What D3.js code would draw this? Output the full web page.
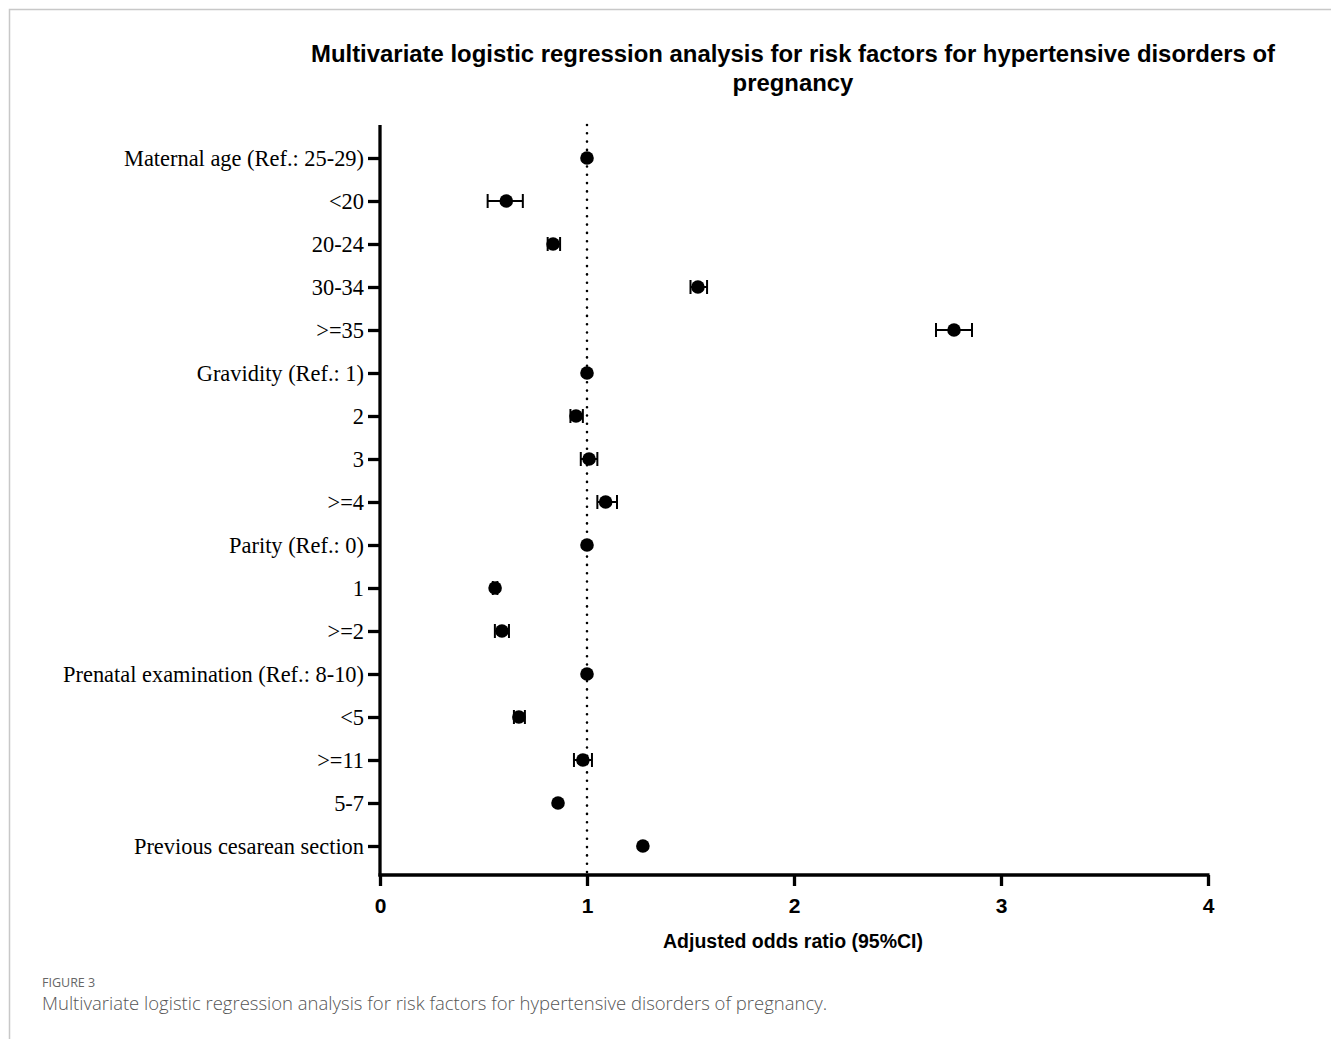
<!DOCTYPE html>
<html><head><meta charset="utf-8">
<script src="https://cdn.jsdelivr.net/npm/d3@7"></script>
<style>
body{margin:0;background:#fff;}
svg{display:block;}
</style></head>
<body>
<svg id="chart" width="1331" height="1039"></svg>
<script>
const categories = ["Maternal age (Ref.: 25-29)","<20","20-24","30-34",">=35","Gravidity (Ref.: 1)","2","3",">=4","Parity (Ref.: 0)","1",">=2","Prenatal examination (Ref.: 8-10)","<5",">=11","5-7","Previous cesarean section"];
const oddsRatio = [1.00,0.61,0.836,1.536,2.773,1.00,0.947,1.01,1.09,1.00,0.556,0.589,1.00,0.671,0.98,0.86,1.27];
const ciLower =   [1.00,0.52,0.81,1.50,2.686,1.00,0.92,0.97,1.05,1.00,0.545,0.555,1.00,0.647,0.937,0.86,1.27];
const ciUpper =   [1.00,0.69,0.87,1.58,2.86,1.00,0.98,1.05,1.145,1.00,0.567,0.623,1.00,0.70,1.024,0.86,1.27];
const xTicks = [0,1,2,3,4];
const refLine = 1;
const titleLines = ["Multivariate logistic regression analysis for risk factors for hypertensive disorders of","pregnancy"];
const xTitle = "Adjusted odds ratio (95%CI)";
const captionLabel = "FIGURE 3";
const captionText = "Multivariate logistic regression analysis for risk factors for hypertensive disorders of pregnancy.";

const svg = d3.select("#chart");
// frame
svg.append("path").attr("d","M9.5,1039 L9.5,9.5 L1331,9.5").attr("fill","none").attr("stroke","#c8c8c8").attr("stroke-width",1.5);

const x = d3.scaleLinear().domain([0,4]).range([380,1208]);
const y = d3.scalePoint().domain(categories).range([158,846]);
const axisTop = 125, axisBottom = 875;

// title
svg.append("text").attr("x",793).attr("y",62).attr("text-anchor","middle")
  .style("font-family","Liberation Sans, Arial, sans-serif").style("font-weight","bold").style("font-size","23.9px")
  .selectAll("tspan").data(titleLines).join("tspan").attr("x",793).attr("dy",(d,i)=>i?29:0).text(d=>d);

// reference dotted line
svg.append("line").attr("x1",x(refLine)).attr("x2",x(refLine)).attr("y1",axisTop).attr("y2",axisBottom)
  .attr("stroke","#000").attr("stroke-width",2.6).attr("stroke-dasharray","0 8.3").attr("stroke-linecap","round");

// y axis
const yAxis = svg.append("g").attr("transform",`translate(${x(0)},0)`)
  .call(d3.axisLeft(y).tickSize(12).tickPadding(4));
yAxis.select(".domain").remove();
yAxis.selectAll(".tick line").attr("stroke","#000").attr("stroke-width",3.3);
yAxis.selectAll(".tick text").attr("fill","#000").style("font-family","Liberation Serif, Times New Roman, serif").style("font-size","22.4px");
svg.append("line").attr("x1",x(0)).attr("x2",x(0)).attr("y1",axisTop).attr("y2",axisBottom+1.5).attr("stroke","#000").attr("stroke-width",3.3);

// x axis
const xAxis = svg.append("g").attr("transform",`translate(0,${axisBottom})`)
  .call(d3.axisBottom(x).tickValues(xTicks).tickFormat(d3.format("d")).tickSize(11).tickPadding(12));
xAxis.select(".domain").remove();
xAxis.selectAll(".tick line").attr("stroke","#000").attr("stroke-width",3.3);
xAxis.selectAll(".tick text").attr("fill","#000").style("font-family","Liberation Sans, Arial, sans-serif").style("font-weight","bold").style("font-size","21px");
svg.append("line").attr("x1",x(0)-1.5).attr("x2",x(4)+1.5).attr("y1",axisBottom).attr("y2",axisBottom).attr("stroke","#000").attr("stroke-width",3.3);

svg.append("text").attr("x",793).attr("y",948).attr("text-anchor","middle")
  .style("font-family","Liberation Sans, Arial, sans-serif").style("font-weight","bold").style("font-size","19.5px").text(xTitle);

// error bars
const rows = categories.map((c,i)=>({c, or:oddsRatio[i], lo:ciLower[i], hi:ciUpper[i]}));
const eb = svg.append("g").selectAll("g").data(rows.filter(d=>d.hi-d.lo>0)).join("g");
eb.append("line").attr("x1",d=>x(d.lo)).attr("x2",d=>x(d.hi)).attr("y1",d=>y(d.c)).attr("y2",d=>y(d.c)).attr("stroke","#000").attr("stroke-width",2);
eb.append("line").attr("x1",d=>x(d.lo)).attr("x2",d=>x(d.lo)).attr("y1",d=>y(d.c)-7).attr("y2",d=>y(d.c)+7).attr("stroke","#000").attr("stroke-width",2);
eb.append("line").attr("x1",d=>x(d.hi)).attr("x2",d=>x(d.hi)).attr("y1",d=>y(d.c)-7).attr("y2",d=>y(d.c)+7).attr("stroke","#000").attr("stroke-width",2);

// points
svg.append("g").selectAll("circle").data(rows).join("circle")
  .attr("cx",d=>x(d.or)).attr("cy",d=>y(d.c)).attr("r",6.8).attr("fill","#000");

// caption
svg.append("text").attr("x",42).attr("y",987).style("font-family","Open Sans, sans-serif").style("font-size","12.5px").attr("fill","#666").text(captionLabel);
svg.append("text").attr("x",42).attr("y",1010).style("font-family","Open Sans, sans-serif").style("font-size","18.5px").style("font-weight","300").attr("fill","#555").text(captionText);
</script>
</body></html>
